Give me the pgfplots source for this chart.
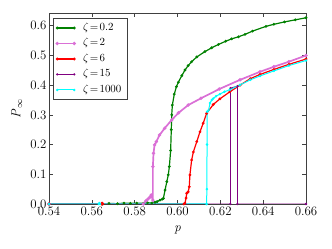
\documentclass[border=0pt]{standalone}
\usepackage{fontspec}
\usepackage{pgfplots}
\pgfplotsset{compat=1.18}
\definecolor{mgreen}{RGB}{0,128,0}
\definecolor{mpink}{RGB}{218,112,214}
\definecolor{mred}{RGB}{255,0,0}
\definecolor{mpurple}{RGB}{128,0,128}
\definecolor{mcyan}{RGB}{0,255,255}
\begin{document}
\begin{tikzpicture}[x=1bp,y=1bp]
\path[use as bounding box] (0,0) rectangle (332,249);
\begin{axis}[
  at={(49bp,45bp)}, anchor=south west,
  width=257bp, height=190.7bp, scale only axis,
  xmin=0.54, xmax=0.66, ymin=0, ymax=0.642,
  xtick={0.54,0.56,0.58,0.60,0.62,0.64,0.66},
  ytick={0,0.1,0.2,0.3,0.4,0.5,0.6},
  tick align=inside, tick pos=both,
  major tick length=4bp,
  axis line style={black!75, line width=0.8bp},
  every tick/.style={black!75, line width=0.6bp},
  /pgf/number format/assume math mode=true,
  tick label style={font=\fontsize{12.9bp}{15bp}\selectfont},
  xticklabel style={/pgf/number format/fixed,/pgf/number format/fixed zerofill,/pgf/number format/precision=2,yshift=1bp},
  yticklabel style={/pgf/number format/fixed,/pgf/number format/fixed zerofill,/pgf/number format/precision=1,xshift=1bp},
  scaled ticks=false,
  xlabel={\textit{p}}, ylabel={\textit{P}$_\infty$},
  every axis x label/.style={at={(axis description cs:0.5,-0.136)},anchor=center,font=\fontsize{13bp}{15bp}\selectfont},
  every axis y label/.style={at={(axis description cs:-0.125,0.5)},rotate=90,anchor=center,font=\fontsize{13bp}{15bp}\selectfont},
  legend cell align=left,
  legend image code/.code={\draw[mark repeat=1,mark phase=1,#1] plot coordinates {(0bp,0bp) (17bp,0bp)};},
  legend style={at={(0.0156,0.975)}, anchor=north west, draw=black!75, line width=0.8bp,
     font=\fontsize{10.5bp}{12bp}\selectfont, inner xsep=3bp, inner ysep=2.5bp, row sep=1.5bp, column sep=5bp,
     nodes={text height=7.5bp, text depth=2.5bp, inner xsep=3bp, inner ysep=2bp}},
  every axis plot/.append style={mark=*, mark size=0.7bp},
  clip=true,
]
\addplot[color=mgreen, line width=1.2bp] coordinates {
(0.54,0)(0.565,0)(0.568,0.002)(0.572,0.001)(0.575,0.003)(0.578,0.002)(0.581,0.003)(0.584,0.002)(0.586,0.004)(0.588,0.003)(0.5895,0.006)(0.5905,0.008)(0.5918,0.013)(0.5928,0.016)(0.5934,0.019)(0.5942,0.047)(0.5950,0.075)(0.5957,0.098)(0.5962,0.126)(0.5968,0.18)(0.5971,0.25)(0.5973,0.30)(0.5976,0.333)(0.5985,0.37)(0.5995,0.395)(0.6004,0.41)(0.602,0.432)(0.6035,0.451)(0.605,0.466)(0.6066,0.479)(0.609,0.495)(0.6128,0.513)(0.616,0.526)(0.6191,0.537)(0.6225,0.548)(0.6253,0.556)(0.6285,0.563)(0.6315,0.571)(0.635,0.582)(0.6413,0.598)(0.645,0.605)(0.65,0.613)(0.655,0.620)(0.66,0.627)
};
\addlegendentry{$\zeta\!=\!0.2$}
\addplot[color=mpink, line width=1.7bp] coordinates {
(0.54,0)(0.584,0)(0.5853,0.011)(0.5861,0.016)(0.5870,0.022)(0.5877,0.03)(0.5885,0.013)(0.5885,0.126)(0.5888,0.171)(0.5893,0.199)(0.5901,0.21)(0.5916,0.232)(0.5940,0.255)(0.5973,0.283)(0.6005,0.307)(0.6050,0.333)(0.6110,0.356)(0.6195,0.387)(0.6292,0.418)(0.6385,0.445)(0.645,0.462)(0.652,0.479)(0.66,0.50)
};
\addlegendentry{$\zeta\!=\!2$}
\addplot[color=mred, line width=1.2bp] coordinates {
(0.54,0)(0.5645,0)(0.5648,0.003)(0.5651,0)(0.6030,0)(0.6035,0.003)(0.6040,0.02)(0.6043,0.036)(0.6050,0.041)(0.6055,0.058)(0.6058,0.098)(0.6066,0.148)(0.6074,0.175)(0.6090,0.21)(0.6105,0.243)(0.6120,0.272)(0.6136,0.305)(0.6167,0.335)(0.6198,0.354)(0.6245,0.378)(0.6292,0.40)(0.634,0.422)(0.6385,0.436)(0.645,0.453)(0.652,0.47)(0.66,0.488)
};
\addlegendentry{$\zeta\!=\!6$}
\addplot[color=mpurple, line width=0.8bp] coordinates {
(0.54,0)(0.6247,0)(0.6247,0.390)(0.6280,0.397)(0.6280,0)(0.66,0)
};
\addlegendentry{$\zeta\!=\!15$}
\addplot[color=mcyan, line width=1.0bp] coordinates {
(0.54,0)(0.5632,0)(0.5635,0.003)(0.5638,0)(0.6136,0)(0.6137,0.05)(0.6138,0.2)(0.6139,0.311)(0.6145,0.316)(0.6152,0.34)(0.6160,0.35)(0.6167,0.355)(0.618,0.363)(0.6198,0.37)(0.622,0.378)(0.6245,0.385)(0.6292,0.401)(0.634,0.418)(0.6385,0.431)(0.645,0.448)(0.652,0.466)(0.66,0.483)
};
\addlegendentry{$\zeta\!=\!1000$}
\end{axis}
\end{tikzpicture}
\end{document}
